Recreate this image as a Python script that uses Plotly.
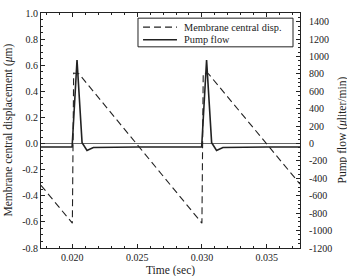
import plotly.graph_objects as go

# Membrane central displacement (um) - left axis
disp_t = [0.01758, 0.02000, 0.02010, 0.02050, 0.03000, 0.03010, 0.03050, 0.03757]
disp_v = [-0.32, -0.61, 0.54, 0.535, -0.61, 0.54, 0.535, -0.31]

# Pump flow (uliter/min) - right axis
flow_t = [0.01758, 0.01998, 0.02036, 0.02075, 0.02113, 0.02162, 0.0250,
          0.02998, 0.03036, 0.03075, 0.03113, 0.03162, 0.0350, 0.03757]
flow_v = [-40, -40, 960, 10, -80, -45, -40,
          -40, 960, 10, -80, -45, -40, -40]

x_ticks = [0.020, 0.025, 0.030, 0.035]
x_ticklabels = ["0.020", "0.025", "0.030", "0.035"]
yl_ticks = [1.0, 0.8, 0.6, 0.4, 0.2, 0.0, -0.2, -0.4, -0.6, -0.8]
yl_ticklabels = ["1.0", "0.8", "0.6", "0.4", "0.2", "0.0", "-0.2", "-0.4", "-0.6", "-0.8"]
yr_ticks = [1400, 1200, 1000, 800, 600, 400, 200, 0, -200, -400, -600, -800, -1000, -1200]
yr_ticklabels = ["1400", "1200", "1000", "800", "600", "400", "200", "0", "-200", "-400",
                 "-600", "-800", "-1000", "-1200"]

legend_names = ["Membrane central disp.", "Pump flow"]

FONT = "Liberation Serif"
INK = "#222"
DASH = "7px,4px"

fig = go.Figure()
fig.add_trace(go.Scatter(x=disp_t, y=disp_v, mode="lines", name=legend_names[0],
                         line=dict(color=INK, width=1.1, dash=DASH), yaxis="y"))
fig.add_trace(go.Scatter(x=flow_t, y=flow_v, mode="lines", name=legend_names[1],
                         line=dict(color=INK, width=1.6), yaxis="y2"))

axis_common = dict(showline=True, linecolor=INK, linewidth=1, ticks="inside", ticklen=4,
                   tickcolor=INK, tickwidth=1, showgrid=False,
                   tickfont=dict(family=FONT, size=10, color=INK))

# hand-drawn legend box (paper coordinates)
row1, row2 = 0.940, 0.886
shapes = [
    dict(type="rect", xref="paper", yref="paper", x0=0.3745, x1=0.973, y0=0.856, y1=0.978,
         line=dict(color=INK, width=1), fillcolor="white", layer="above"),
    dict(type="line", xref="paper", yref="paper", x0=0.394, x1=0.525, y0=row1, y1=row1,
         line=dict(color=INK, width=1.1, dash=DASH), layer="above"),
    dict(type="line", xref="paper", yref="paper", x0=0.394, x1=0.525, y0=row2, y1=row2,
         line=dict(color=INK, width=1.6), layer="above"),
]

annotations = [
    dict(text=legend_names[0], xref="paper", yref="paper", x=0.545, y=row1,
         xanchor="left", yanchor="middle", showarrow=False,
         font=dict(family=FONT, size=10.3, color=INK)),
    dict(text=legend_names[1], xref="paper", yref="paper", x=0.545, y=row2,
         xanchor="left", yanchor="middle", showarrow=False,
         font=dict(family=FONT, size=10.3, color=INK)),
    dict(text="Time (sec)", xref="paper", yref="paper", x=0.5, y=0,
         yshift=-22, yanchor="middle", showarrow=False,
         font=dict(family=FONT, size=11.5, color=INK)),
    dict(text="Membrane central displacement (<i>μ</i>m)", xref="paper", yref="paper",
         x=0, y=0.5, xshift=-33, textangle=-90, xanchor="center", showarrow=False,
         font=dict(family=FONT, size=11.5, color=INK)),
    dict(text="Pump flow (<i>μ</i>liter/min)", xref="paper", yref="paper",
         x=1, y=0.5, xshift=42, textangle=-90, xanchor="center", showarrow=False,
         font=dict(family=FONT, size=11.5, color=INK)),
]

fig.update_layout(
    width=347, height=276,
    margin=dict(l=41, r=47, t=7, b=28),
    paper_bgcolor="white", plot_bgcolor="white",
    font=dict(family=FONT, size=10, color=INK),
    xaxis=dict(range=[0.01758, 0.03757], tickmode="array", tickvals=x_ticks,
               ticktext=x_ticklabels, mirror="ticks",
               minor=dict(dtick=0.001, tick0=0.0, ticks="inside", ticklen=2, tickcolor=INK),
               zeroline=False, **axis_common),
    yaxis=dict(range=[-0.8, 1.0], tickmode="array", tickvals=yl_ticks,
               ticktext=yl_ticklabels,
               minor=dict(dtick=0.05, tick0=0.0, ticks="inside", ticklen=2, tickcolor=INK),
               zeroline=True, zerolinecolor="#666", zerolinewidth=0.8, **axis_common),
    yaxis2=dict(range=[-1200, 1500], overlaying="y", side="right", tickmode="array",
                tickvals=yr_ticks, ticktext=yr_ticklabels, ticklabelstandoff=6,
                minor=dict(dtick=50, tick0=0, ticks="inside", ticklen=2, tickcolor=INK),
                zeroline=False, **axis_common),
    showlegend=False,
    shapes=shapes,
    annotations=annotations,
)

fig.write_html("out.html")
